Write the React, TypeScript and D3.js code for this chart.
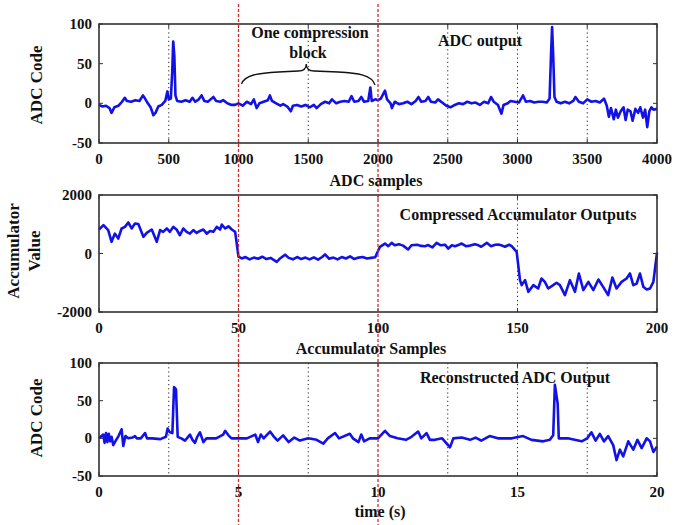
import React from "react";
import * as d3 from "d3";

// ---------- DATA ----------
const adcPoints: [number, number][] = [
  [0,-2],[25,-4],[50,-3],[75,-6],[90,-12],[110,-5],[140,-3],[165,2],[185,7],[200,3],[230,2],[260,4],[290,3],[315,10],[330,6],[350,0],[370,-5],[390,-15],[405,-12],[425,-4],[450,-2],[475,3],[490,15],[500,5],[515,6],[525,40],[532,78],[540,60],[548,10],[560,3],[590,2],[620,4],[650,2],[670,7],[690,2],[715,5],[735,10],[755,3],[780,2],[800,5],[820,8],[840,3],[870,2],[890,4],[920,0],[950,-2],[975,-2],[1000,0],[1030,-3],[1060,2],[1090,-1],[1110,5],[1130,-6],[1150,0],[1180,2],[1210,4],[1225,10],[1240,3],[1270,0],[1300,-3],[1320,-1],[1350,-4],[1375,-10],[1390,-3],[1420,-2],[1450,-4],[1480,-2],[1510,-5],[1540,-2],[1560,-6],[1590,-1],[1620,2],[1650,0],[1670,5],[1700,0],[1730,2],[1760,3],[1790,2],[1810,9],[1830,2],[1860,3],[1880,8],[1900,2],[1930,3],[1945,20],[1955,3],[1980,5],[2000,4],[2020,6],[2050,16],[2065,5],[2090,0],[2100,-6],[2120,2],[2150,-1],[2180,0],[2210,2],[2240,-1],[2270,3],[2290,8],[2310,2],[2340,3],[2360,8],[2380,2],[2410,1],[2430,5],[2460,1],[2490,-3],[2520,-5],[2550,-2],[2580,0],[2610,-1],[2640,2],[2670,0],[2700,1],[2730,-2],[2760,2],[2790,0],[2810,8],[2830,2],[2860,-2],[2885,-13],[2900,-2],[2930,0],[2950,3],[2980,2],[3010,1],[3040,10],[3060,2],[3090,3],[3120,1],[3150,2],[3180,2],[3210,1],[3230,6],[3240,60],[3248,96],[3256,60],[3265,8],[3280,2],[3310,0],[3340,2],[3370,0],[3400,3],[3415,8],[3440,2],[3470,0],[3500,5],[3530,2],[3560,3],[3590,1],[3620,6],[3640,-3],[3655,-17],[3670,-6],[3690,-20],[3705,-8],[3720,-18],[3740,-10],[3760,-5],[3775,-21],[3790,-8],[3810,-10],[3825,-22],[3845,-7],[3865,-12],[3880,-5],[3900,-18],[3915,-8],[3930,-30],[3945,-10],[3960,-5],[3975,-8],[4000,-7]
];

const accPoints: [number, number][] = [
  [0,820],[1.6,970],[3.3,800],[4.5,400],[5.7,680],[6.9,510],[8.1,855],[9.3,910],[10.5,1060],[11.7,855],[12.9,1025],[14.1,1010],[15.9,570],[17.1,705],[18.9,820],[20.7,400],[21.9,800],[23,740],[24.3,855],[25.4,740],[26.6,910],[27.8,820],[29,625],[30.2,855],[31.4,740],[32.6,680],[33.8,800],[35,705],[36.2,770],[37.4,820],[38.6,680],[39.8,770],[41,740],[42.2,910],[43.4,820],[44,990],[45.2,855],[46.4,930],[47.6,820],[48.8,740],[50,-110],[51.2,-170],[52.5,-120],[54,-200],[55.5,-140],[57,-180],[58.5,-110],[60,-190],[61.5,-150],[63.7,-285],[65,-160],[66.7,-40],[68,-150],[69.5,-200],[71,-120],[72.5,-190],[74,-140],[75.5,-200],[77,-130],[78.5,-210],[80,-120],[81,-30],[82.5,-180],[84,-140],[85.5,-200],[87,-120],[88.5,-170],[90,-100],[91.5,-190],[93,-140],[94.5,-120],[96,-170],[97.5,-150],[99,-130],[100.7,228],[102.5,340],[103.7,250],[104.9,364],[106,285],[107.5,320],[109,270],[110.8,137],[112,280],[114,300],[115.5,260],[116.8,250],[118,290],[119.5,210],[121,364],[122.5,280],[124,300],[125.2,170],[126.5,280],[127.6,250],[129,300],[130,340],[131.5,250],[133,270],[134.7,320],[136,280],[137,230],[139,364],[140.5,250],[142,300],[143.1,310],[144.5,270],[145.5,230],[147,300],[147.9,250],[149.7,57],[150.9,-911],[151.5,-1082],[152.7,-911],[153.9,-1310],[155.7,-1082],[157.4,-1196],[158.6,-854],[159.8,-970],[161,-1196],[162.8,-1082],[164,-1000],[165.2,-1082],[167,-1424],[168.8,-911],[170.6,-1310],[172,-683],[173.6,-1250],[175.4,-970],[177.2,-1250],[179,-890],[180.7,-1140],[182.5,-1424],[184,-820],[185.5,-1196],[187.3,-970],[189.1,-854],[190.3,-683],[191.5,-1082],[192.7,-1030],[193.9,-683],[195.1,-1140],[196.3,-1230],[197.5,-1196],[198.7,-970],[200,30]
];

const recPoints: [number, number][] = [
  [0,0],[0.15,5],[0.2,-6],[0.25,7],[0.3,-5],[0.35,6],[0.4,-4],[0.45,2],[0.51,-9],[0.6,-3],[0.7,3],[0.81,12],[0.87,-10],[0.95,3],[1.05,0],[1.2,1],[1.29,3],[1.35,0],[1.5,0],[1.65,7],[1.72,0],[1.9,0],[2.2,-1],[2.4,2],[2.46,13],[2.54,8],[2.63,7],[2.69,68],[2.76,65],[2.82,2],[2.95,0],[3.08,-3],[3.15,0],[3.26,5],[3.35,-2],[3.44,-6],[3.52,2],[3.62,8],[3.74,-5],[3.85,0],[4.2,0],[4.45,5],[4.52,10],[4.64,4],[4.75,0],[5,0],[5.3,0],[5.6,5],[5.7,-5],[5.8,5],[5.9,0],[6.13,9],[6.25,3],[6.4,-3],[6.6,4],[6.8,-5],[7.0,1],[7.2,-3],[7.5,0],[7.8,-2],[8.04,-7],[8.2,0],[8.46,7],[8.6,0],[8.99,6],[9.1,0],[9.3,-5],[9.4,5],[9.5,-4],[9.7,0],[10,0],[10.25,10],[10.43,3],[10.7,0],[11.0,-2],[11.2,2],[11.44,9],[11.55,0],[11.74,7],[11.86,-2],[12.04,-2],[12.3,0],[12.58,-12],[12.7,0],[13.0,1],[13.3,-2],[13.5,1],[13.7,-3],[14.0,3],[14.3,0],[14.8,0],[15.2,3],[15.5,-2],[15.92,-4],[16.16,-2],[16.28,4],[16.34,71],[16.44,46],[16.48,0],[16.8,0],[17.3,-4],[17.5,0],[17.65,8],[17.8,-3],[17.95,6],[18.1,-4],[18.25,3],[18.43,-9],[18.55,-29],[18.67,-15],[18.79,-24],[18.97,-4],[19.15,-15],[19.3,-2],[19.45,-13],[19.63,0],[19.75,-4],[19.87,-18],[20,-11]
];

const adcXTicks = [0, 500, 1000, 1500, 2000, 2500, 3000, 3500, 4000];
const adcYTicks = [100, 50, 0, -50];
const adcDotted = [500, 1500, 2500, 3000, 3500];

const accXTicks = [0, 50, 100, 150, 200];
const accYTicks = [2000, 0, -2000];
const accDotted = [150];

const recXTicks = [0, 5, 10, 15, 20];
const recYTicks = [100, 50, 0, -50];
const recDotted = [2.5, 7.5, 12.5, 15, 17.5];

const blockBounds = [1000, 2000]; // in ADC samples

// ---------- LAYOUT ----------
const W = 679, H = 525;
const X0 = 99, X1 = 657;
const FONT = "'Liberation Serif', 'Times New Roman', serif";
const BLUE = "#1212e6";

type PanelProps = {
  top: number; bottom: number;
  xDomain: [number, number]; yDomain: [number, number];
  data: [number, number][];
  xTicks: number[]; yTicks: number[]; dotted: number[];
};

function Panel({ top, bottom, xDomain, yDomain, data, xTicks, yTicks, dotted }: PanelProps) {
  const x = d3.scaleLinear().domain(xDomain).range([X0, X1]);
  const y = d3.scaleLinear().domain(yDomain).range([bottom, top]);
  const line = d3.line<[number, number]>().x(d => x(d[0])).y(d => y(d[1]));
  const tl = 4;
  return (
    <g>
      {dotted.map(v => (
        <line key={"d" + v} x1={x(v)} x2={x(v)} y1={top} y2={bottom}
          stroke="#222" strokeWidth={1} strokeDasharray="1.2,3" />
      ))}
      <path d={line(data) || ""} fill="none" stroke={BLUE} strokeWidth={2.6} strokeLinejoin="round" />
      <rect x={X0} y={top} width={X1 - X0} height={bottom - top} fill="none" stroke="#333" strokeWidth={1.6} />
      {xTicks.map(v => (
        <g key={"x" + v}>
          <line x1={x(v)} x2={x(v)} y1={bottom} y2={bottom - tl} stroke="#333" strokeWidth={1} />
          <line x1={x(v)} x2={x(v)} y1={top} y2={top + tl} stroke="#333" strokeWidth={1} />
          <text x={x(v)} y={bottom + 21} textAnchor="middle" fontFamily={FONT} fontWeight="bold" fontSize={15} fill="#111">{v}</text>
        </g>
      ))}
      {yTicks.map(v => (
        <g key={"y" + v}>
          <line x1={X0} x2={X0 + tl} y1={y(v)} y2={y(v)} stroke="#333" strokeWidth={1} />
          <line x1={X1} x2={X1 - tl} y1={y(v)} y2={y(v)} stroke="#333" strokeWidth={1} />
          <text x={X0 - 7} y={y(v) + 5} textAnchor="end" fontFamily={FONT} fontWeight="bold" fontSize={15} fill="#111">{v}</text>
        </g>
      ))}
    </g>
  );
}

export default function App() {
  const xTop = d3.scaleLinear().domain([0, 4000]).range([X0, X1]);
  const bx0 = xTop(blockBounds[0]);
  const bx1 = xTop(blockBounds[1]);
  const bm = (bx0 + bx1) / 2 - 2;
  const brace = `M ${bx0 + 3} 84 C ${bx0 + 6} 75, ${bx0 + 20} 73, ${bx0 + 40} 72 L ${bm - 8} 71 C ${bm - 2} 71, ${bm} 68, ${bm} 64 C ${bm} 68, ${bm + 2} 71, ${bm + 8} 71 L ${bx1 - 40} 72 C ${bx1 - 20} 73, ${bx1 - 6} 75, ${bx1 - 3} 85`;
  const tStyle = { fontFamily: FONT, fontWeight: "bold" as const, fill: "#111" };
  return (
    <svg width={W} height={H} style={{ position: "absolute", left: 0, top: 0, background: "#fff" }}>
      <rect width={W} height={H} fill="#fff" />
      <Panel top={24} bottom={143} xDomain={[0, 4000]} yDomain={[-50, 100]} data={adcPoints}
        xTicks={adcXTicks} yTicks={adcYTicks} dotted={adcDotted} />
      <Panel top={195} bottom={312} xDomain={[0, 200]} yDomain={[-2000, 2000]} data={accPoints}
        xTicks={accXTicks} yTicks={accYTicks} dotted={accDotted} />
      <Panel top={363} bottom={476} xDomain={[0, 20]} yDomain={[-50, 100]} data={recPoints}
        xTicks={recXTicks} yTicks={recYTicks} dotted={recDotted} />

      {blockBounds.map(b => (
        <line key={"r" + b} x1={xTop(b)} x2={xTop(b)} y1={4} y2={525}
          stroke="#d42a2a" strokeWidth={1.3} strokeDasharray="3,2" />
      ))}

      <path d={brace} fill="none" stroke="#111" strokeWidth={1.3} />
      <text x={310} y={38} textAnchor="middle" fontSize={16} {...tStyle}>One compression</text>
      <text x={308} y={58} textAnchor="middle" fontSize={16} {...tStyle}>block</text>
      <text x={480} y={46} textAnchor="middle" fontSize={16} {...tStyle}>ADC output</text>
      <text x={518} y={220} textAnchor="middle" fontSize={16} {...tStyle}>Compressed Accumulator Outputs</text>
      <text x={515} y={383} textAnchor="middle" fontSize={16} {...tStyle}>Reconstructed ADC Output</text>

      <text x={376} y={186} textAnchor="middle" fontSize={16} {...tStyle}>ADC samples</text>
      <text x={371} y={354} textAnchor="middle" fontSize={16} {...tStyle}>Accumulator Samples</text>
      <text x={380} y={517} textAnchor="middle" fontSize={16} {...tStyle}>time (s)</text>

      <text transform="translate(42,85) rotate(-90)" textAnchor="middle" fontSize={17} {...tStyle}>ADC Code</text>
      <text transform="translate(19,251) rotate(-90)" textAnchor="middle" fontSize={17} {...tStyle}>Accumulator</text>
      <text transform="translate(40,251) rotate(-90)" textAnchor="middle" fontSize={17} {...tStyle}>Value</text>
      <text transform="translate(42,418) rotate(-90)" textAnchor="middle" fontSize={17} {...tStyle}>ADC Code</text>
    </svg>
  );
}
